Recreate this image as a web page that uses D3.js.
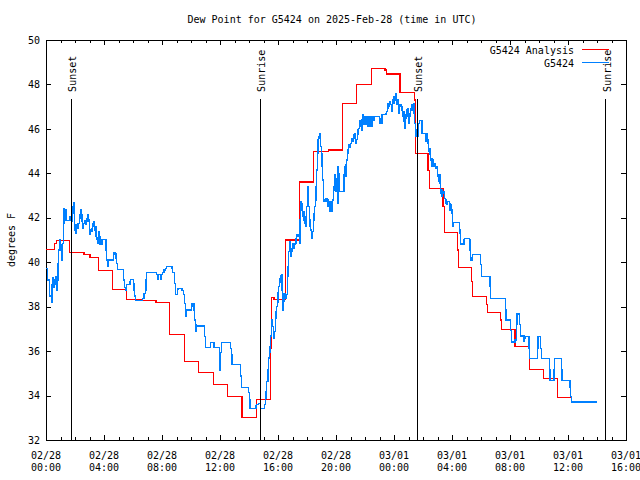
<!DOCTYPE html>
<html><head><meta charset="utf-8">
<script src="https://cdn.jsdelivr.net/npm/d3@7"></script>
<style>
body{margin:0;background:#fff;}
svg{display:block;}
text{font-family:"DejaVu Sans Mono",monospace;font-size:10px;fill:#000;}
</style></head><body>
<svg id="c" width="640" height="480"></svg>
<script>
// ---------- data ----------
const chartTitle = "Dew Point for G5424 on 2025-Feb-28 (time in UTC)";
const yAxisLabel = "degrees F";
const seriesNames = ["G5424 Analysis", "G5424"];
const seriesColors = ["#ff0000", "#0080ff"];
const startUTC = Date.UTC(2025, 1, 28, 0, 0);   // 02/28 00:00 UTC
const xDomainHours = [0, 40];                   // through 03/01 16:00
const yDomain = [32, 50];
const yTickValues = [32, 34, 36, 38, 40, 42, 44, 46, 48, 50];
const xMajorHours = [0, 4, 8, 12, 16, 20, 24, 28, 32, 36, 40];
const xMinorHours = [1,2,3,5,6,7,9,10,11,13,14,15,17,18,19,21,22,23,25,26,27,29,30,31,33,34,35,37,38,39];
const sunEvents = [
  {label: "Sunset",  time: "2025-02-28T01:44Z"},
  {label: "Sunrise", time: "2025-02-28T14:47Z"},
  {label: "Sunset",  time: "2025-03-01T01:37Z"},
  {label: "Sunrise", time: "2025-03-01T14:36Z"}
];
const sunLineTop = 47.35; // degrees F where the marker lines end

// [hours since 02/28 00:00 UTC, dew point F]
const analysis = [
[0,40.58],[0.57,40.85],[0.71,40.99],[1.61,40.42],[2.62,40.33],[3.03,40.22],[3.63,39.61],[4.60,38.78],
[5.57,38.33],[6.62,38.26],[7.59,38.20],[8.53,36.76],[9.54,35.54],[10.52,35.05],[11.57,34.51],[12.53,33.97],
[13.52,33.02],[14.53,33.83],[15.50,36.14],[15.55,38.40],[15.72,38.33],[16.53,41.00],[17.48,43.61],[18.43,44.99],
[19.47,45.05],[20.45,47.15],[21.43,47.98],[22.46,48.73],[23.38,48.65],[23.50,48.47],[24.41,47.65],[25.41,47.30],
[25.50,44.90],[26.34,44.12],[26.43,43.33],[27.38,42.50],[27.47,41.35],[28.38,40.55],[28.45,39.76],[29.34,39.12],
[29.43,38.47],[30.38,38.08],[30.45,37.75],[31.34,37.40],[31.41,36.99],[32.34,36.19],[33.33,35.18],[34.30,34.75],
[35.29,33.92],[36.30,33.92]
];

const observed = [
[0.00,39.70],[0.09,39.20],[0.23,38.48],[0.37,38.18],[0.41,38.98],[0.46,39.32],[0.50,38.87],[0.60,39.20],[0.64,38.98],[0.69,39.35],
[0.74,38.75],[0.78,39.20],[0.83,39.95],[0.88,40.55],[0.92,41.03],[0.97,40.55],[1.01,40.78],[1.06,40.40],[1.10,40.07],[1.15,40.85],
[1.19,41.75],[1.24,42.43],[1.29,42.20],[1.33,42.38],[1.38,41.86],[1.61,42.05],[1.66,41.86],[1.70,42.05],[1.74,41.82],[1.79,42.13],
[1.84,42.50],[1.88,42.68],[1.93,42.20],[1.98,41.45],[2.02,41.68],[2.07,41.30],[2.12,41.53],[2.16,41.75],[2.21,41.53],[2.26,41.75],
[2.30,41.98],[2.34,42.13],[2.39,42.35],[2.43,42.13],[2.48,41.82],[2.53,41.53],[2.57,41.75],[2.69,41.87],[2.71,41.68],[2.81,41.98],
[2.85,41.82],[2.90,42.13],[2.94,41.90],[2.99,41.26],[3.03,41.30],[3.08,41.45],[3.12,41.53],[3.17,41.37],[3.22,41.75],[3.26,41.60],
[3.31,41.82],[3.36,41.45],[3.40,41.60],[3.45,41.15],[3.50,41.03],[3.54,40.85],[3.59,41.12],[3.63,41.37],[3.68,41.15],[3.72,40.78],
[3.77,41.00],[3.81,40.78],[3.86,41.00],[3.91,41.03],[4.14,40.55],[4.19,40.10],[4.23,39.80],[4.28,40.02],[4.32,40.10],[4.64,40.33],
[4.69,40.43],[4.78,40.37],[4.83,40.18],[4.88,39.95],[4.92,39.68],[5.33,39.20],[5.43,38.87],[5.47,38.75],[5.52,38.83],[5.57,38.98],
[5.79,39.12],[5.84,39.23],[6.02,39.05],[6.07,38.75],[6.12,38.48],[6.16,38.27],[6.67,38.38],[6.76,38.60],[6.85,38.75],[6.90,39.20],
[6.94,39.55],[7.63,39.43],[7.68,39.23],[7.77,39.43],[7.91,39.23],[7.95,39.43],[8.05,39.53],[8.14,39.65],[8.23,39.73],[8.32,39.80],
[8.69,39.70],[8.74,39.55],[8.88,39.05],[8.92,38.53],[9.06,38.78],[9.10,38.83],[9.38,38.72],[9.47,38.53],[9.57,38.15],[9.61,37.55],
[9.66,37.70],[9.70,37.85],[10.02,38.00],[10.07,38.12],[10.21,37.85],[10.26,37.40],[10.30,37.18],[10.34,36.87],[10.39,37.13],[10.90,37.09],
[10.94,36.65],[10.99,36.15],[11.36,36.38],[11.59,36.15],[11.95,35.75],[12.00,35.15],[12.05,35.92],[12.09,36.40],[12.74,36.13],[12.78,35.83],
[12.83,35.41],[13.43,34.88],[13.47,34.37],[13.98,34.13],[14.02,33.80],[14.07,33.40],[14.48,33.53],[14.53,33.58],[14.67,33.65],[14.81,33.43],
[14.85,33.40],[15.08,33.58],[15.12,33.88],[15.17,34.17],[15.22,34.62],[15.31,35.15],[15.36,35.69],[15.40,35.96],[15.45,36.20],[15.50,36.68],
[15.54,37.31],[15.59,37.40],[15.63,37.10],[15.68,36.82],[15.72,36.58],[15.77,36.90],[15.81,37.49],[15.86,37.76],[15.91,38.00],[15.95,38.21],
[16.00,38.62],[16.05,38.89],[16.09,39.07],[16.14,39.28],[16.19,39.38],[16.23,39.46],[16.28,38.75],[16.32,37.85],[16.37,38.22],[16.41,38.60],
[16.50,38.44],[16.55,38.35],[16.60,38.53],[16.64,39.35],[16.69,39.80],[16.74,40.47],[16.78,40.92],[16.83,40.63],[16.88,40.25],[16.92,40.47],
[16.97,40.63],[17.01,40.85],[17.06,40.63],[17.10,40.85],[17.15,40.78],[17.19,40.85],[17.24,41.08],[17.29,41.23],[17.33,41.18],[17.38,41.23],
[17.43,41.15],[17.47,40.85],[17.52,41.90],[17.57,42.72],[17.61,42.65],[17.66,42.35],[17.70,42.05],[17.74,41.90],[17.79,42.27],[17.84,41.75],
[17.88,41.60],[17.93,42.05],[17.98,42.50],[18.02,42.72],[18.07,43.40],[18.12,42.50],[18.16,41.90],[18.21,41.60],[18.26,41.45],[18.30,41.30],
[18.34,41.08],[18.39,41.37],[18.43,41.90],[18.48,42.20],[18.53,42.50],[18.57,42.80],[18.62,43.40],[18.67,44.15],[18.71,44.90],[18.76,45.50],
[18.81,45.65],[18.85,45.77],[18.90,45.58],[18.94,45.20],[18.99,44.90],[19.03,44.30],[19.08,43.70],[19.12,42.80],[19.17,42.72],[19.31,42.88],
[19.40,42.80],[19.45,42.50],[19.50,42.72],[19.54,42.43],[19.59,42.27],[19.63,42.72],[19.68,42.65],[19.72,42.27],[19.77,42.80],[19.81,43.25],
[19.86,43.40],[19.91,43.93],[19.95,43.78],[20.00,43.17],[20.05,43.70],[20.09,42.65],[20.14,44.30],[20.19,44.00],[20.23,43.20],[20.55,43.93],
[20.60,44.30],[20.64,43.85],[20.69,44.38],[20.74,44.60],[20.78,44.90],[20.83,45.05],[20.88,45.28],[20.92,45.17],[20.97,45.28],[21.01,45.35],
[21.06,45.50],[21.10,45.58],[21.15,45.42],[21.19,45.73],[21.24,45.58],[21.29,45.77],[21.33,45.50],[21.38,45.35],[21.43,45.53],[21.47,45.73],
[21.52,45.95],[21.57,46.03],[21.61,46.25],[21.66,46.36],[21.70,46.10],[21.74,45.95],[21.79,46.40],[21.84,46.63],[21.88,46.55],[21.93,46.18],
[21.98,46.55],[22.02,46.32],[22.07,46.18],[22.12,46.55],[22.16,46.25],[22.21,46.10],[22.26,46.55],[22.30,46.32],[22.34,46.10],[22.39,46.55],
[22.43,46.10],[22.48,46.55],[22.62,46.40],[22.67,46.55],[22.99,46.40],[23.03,46.25],[23.08,46.48],[23.12,46.25],[23.17,46.63],[23.45,46.70],
[23.50,46.77],[23.54,46.93],[23.59,47.15],[23.63,47.00],[23.68,47.15],[23.72,47.22],[23.77,47.08],[23.81,46.85],[23.86,46.77],[23.91,47.30],
[23.95,47.45],[24.00,47.15],[24.05,47.45],[24.09,47.60],[24.14,47.30],[24.19,47.08],[24.23,47.15],[24.28,47.30],[24.32,46.70],[24.37,47.00],
[24.41,47.08],[24.50,47.00],[24.55,46.85],[24.60,46.55],[24.64,46.77],[24.69,46.32],[24.74,46.03],[24.78,46.63],[24.83,46.48],[24.88,46.85],
[24.92,46.55],[24.97,46.93],[25.01,46.25],[25.06,46.70],[25.10,46.55],[25.15,46.93],[25.19,46.85],[25.24,47.08],[25.29,47.00],[25.33,47.15],
[25.38,46.70],[25.43,46.25],[25.47,45.95],[25.52,45.65],[25.56,45.87],[25.61,45.65],[25.66,46.03],[25.70,46.25],[25.75,46.37],[25.93,45.80],
[26.16,45.65],[26.21,45.42],[26.26,45.80],[26.30,45.50],[26.34,45.35],[26.39,44.97],[26.44,45.13],[26.48,44.83],[26.53,44.60],[26.57,44.30],
[26.62,44.68],[26.67,44.60],[26.71,44.38],[26.76,44.30],[26.81,44.45],[26.85,44.23],[26.90,44.30],[26.99,43.93],[27.03,43.85],[27.08,43.62],
[27.12,43.93],[27.17,43.55],[27.22,43.10],[27.26,43.25],[27.31,42.95],[27.36,43.17],[27.40,43.10],[27.45,43.17],[27.50,42.88],[27.54,42.65],
[27.59,42.80],[27.63,42.58],[27.68,42.72],[27.81,42.65],[27.86,42.35],[27.91,42.58],[27.95,42.35],[28.00,42.20],[28.05,41.60],[28.09,41.78],
[28.50,41.45],[28.55,41.30],[28.60,40.82],[28.83,41.03],[28.88,41.08],[29.19,41.00],[29.24,40.55],[29.29,40.10],[29.38,40.19],[29.43,40.33],
[29.57,40.36],[29.98,39.88],[30.02,39.35],[30.62,38.89],[30.67,38.38],[31.68,37.85],[31.72,37.40],[32.05,36.91],[32.09,36.41],[32.34,36.50],
[32.43,37.18],[32.48,37.67],[32.67,37.18],[32.71,36.68],[32.97,36.42],[33.01,36.59],[33.08,36.65],[33.31,36.13],[33.33,35.65],[33.88,36.13],
[33.93,36.65],[34.12,36.13],[34.16,35.68],[34.71,35.15],[34.76,34.66],[35.03,35.15],[35.08,35.68],[35.54,35.15],[35.59,34.66],[36.14,34.35],
[36.19,33.95],[36.23,33.68],[36.28,33.71],[37.98,33.71]
];

// ---------- drawing ----------
const svg = d3.select("#c");
const plot = {left: 46, right: 626, top: 40, bottom: 440};
const hourToDate = h => new Date(startUTC + h * 3600e3);

const x = d3.scaleUtc()
  .domain(xDomainHours.map(hourToDate))
  .range([plot.left, plot.right]);
const y = d3.scaleLinear().domain(yDomain).range([plot.bottom, plot.top]);

svg.append("rect").attr("width", 640).attr("height", 480).attr("fill", "#fff");

function styleAxis(g) {
  g.select(".domain").remove();
  g.selectAll(".tick line").attr("stroke", "#000").attr("shape-rendering", "crispEdges");
  g.selectAll("text").attr("font-family", "DejaVu Sans Mono").attr("font-size", 10).attr("fill", "#000");
}

// major x ticks bottom/top
svg.append("g").attr("transform", `translate(0,${plot.bottom})`)
  .call(d3.axisBottom(x).tickValues(xMajorHours.map(hourToDate)).tickSizeInner(-5).tickSizeOuter(0).tickFormat(""))
  .call(styleAxis);
svg.append("g").attr("transform", `translate(0,${plot.top})`)
  .call(d3.axisTop(x).tickValues(xMajorHours.map(hourToDate)).tickSizeInner(-5).tickSizeOuter(0).tickFormat(""))
  .call(styleAxis);
// minor x ticks
svg.append("g").attr("transform", `translate(0,${plot.bottom})`)
  .call(d3.axisBottom(x).tickValues(xMinorHours.map(hourToDate)).tickSizeInner(-3).tickSizeOuter(0).tickFormat(""))
  .call(styleAxis);
svg.append("g").attr("transform", `translate(0,${plot.top})`)
  .call(d3.axisTop(x).tickValues(xMinorHours.map(hourToDate)).tickSizeInner(-3).tickSizeOuter(0).tickFormat(""))
  .call(styleAxis);
// y ticks
svg.append("g").attr("transform", `translate(${plot.left},0)`)
  .call(d3.axisLeft(y).tickValues(yTickValues).tickSizeInner(-5).tickSizeOuter(0).tickPadding(6).tickFormat(d3.format("d")))
  .call(styleAxis);
svg.append("g").attr("transform", `translate(${plot.right},0)`)
  .call(d3.axisRight(y).tickValues(yTickValues).tickSizeInner(-5).tickSizeOuter(0).tickFormat(""))
  .call(styleAxis);

// two-line x tick labels
const fmtDay = d3.utcFormat("%m/%d"), fmtTime = d3.utcFormat("%H:%M");
const xl = svg.append("g").selectAll("text").data(xMajorHours.map(hourToDate)).join("text")
  .attr("x", d => x(d)).attr("text-anchor", "middle");
xl.append("tspan").attr("x", d => x(d)).attr("y", plot.bottom + 19).text(d => fmtDay(d));
xl.append("tspan").attr("x", d => x(d)).attr("y", plot.bottom + 31).text(d => fmtTime(d));

// border
svg.append("rect").attr("x", plot.left).attr("y", plot.top)
  .attr("width", plot.right - plot.left).attr("height", plot.bottom - plot.top)
  .attr("fill", "none").attr("stroke", "#000").attr("shape-rendering", "crispEdges");

// title and axis label
svg.append("text").attr("x", 332).attr("y", 23).attr("text-anchor", "middle").text(chartTitle);
svg.append("text").attr("transform", "translate(15,240) rotate(-90)").attr("text-anchor", "middle").text(yAxisLabel);

// series
const line = d3.line()
  .x(d => x(hourToDate(d[0])))
  .y(d => y(d[1]))
  .curve(d3.curveStepAfter);
[analysis, observed].forEach((data, i) => {
  svg.append("path").datum(data).attr("d", line)
    .attr("fill", "none").attr("stroke", seriesColors[i]).attr("stroke-width", 1.2)
    .attr("shape-rendering", "crispEdges");
});

// sunrise / sunset markers
const sun = svg.append("g");
sunEvents.forEach(ev => {
  const t = new Date(ev.time);
  sun.append("line").attr("x1", x(t)).attr("x2", x(t))
    .attr("y1", y(yDomain[0])).attr("y2", y(sunLineTop))
    .attr("stroke", "#000").attr("stroke-width", 1).attr("shape-rendering", "crispEdges");
  sun.append("text")
    .attr("transform", `translate(${x(t) + 5},${y(sunLineTop) - 7}) rotate(-90)`)
    .attr("text-anchor", "start").text(ev.label);
});

// legend
const leg = svg.append("g");
seriesNames.forEach((name, i) => {
  const ly = 54 + i * 13;
  leg.append("text").attr("x", 574).attr("y", ly).attr("text-anchor", "end").text(name);
  leg.append("line").attr("x1", 582).attr("x2", 609).attr("y1", ly - 4.5).attr("y2", ly - 4.5)
    .attr("stroke", seriesColors[i]).attr("stroke-width", 1.2).attr("shape-rendering", "crispEdges");
});
</script>
</body></html>
